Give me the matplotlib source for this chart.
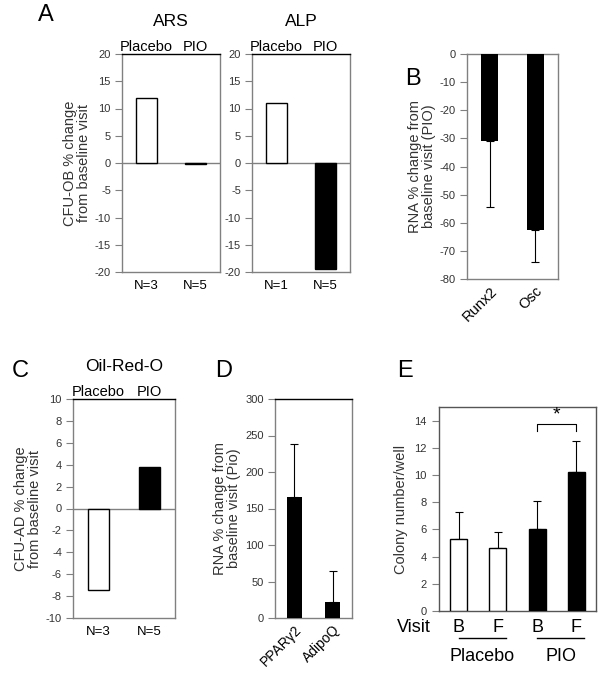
import numpy as np
import matplotlib
matplotlib.use("Agg")
import matplotlib.pyplot as plt

plt.rcParams['font.family'] = ['Liberation Sans', 'DejaVu Sans']
plt.rcParams['axes.unicode_minus'] = False

W, H = 601, 682

# Data
groups = ["Placebo", "PIO"]
ars_n = ["N=3", "N=5"]
ars_vals = [12.0, -0.2]
alp_n = ["N=1", "N=5"]
alp_vals = [11.1, -19.4]

b_genes = ["Runx2", "Osc"]
b_vals = [-31.0, -62.5]
b_err = [23.5, 11.5]

oil_n = ["N=3", "N=5"]
oil_vals = [-7.4, 3.8]

d_genes = ["PPAR\u03b32", "AdipoQ"]
d_vals = [166.0, 22.0]
d_err = [72.0, 42.0]

e_visits = ["B", "F", "B", "F"]
e_vals = [5.3, 4.65, 6.0, 10.25]
e_err = [2.0, 1.15, 2.1, 2.25]
e_groups = ["Placebo", "PIO"]

GRAY = "#808080"


def px_axes(fig, x0, y0, x1, y1):
    return fig.add_axes([x0 / W, 1 - y1 / H, (x1 - x0) / W, (y1 - y0) / H])


def style(ax, top_black=True):
    for s in ["left", "right", "bottom"]:
        ax.spines[s].set_color(GRAY)
        ax.spines[s].set_linewidth(1.0)
    ax.spines["top"].set_color("black" if top_black else GRAY)
    ax.spines["top"].set_linewidth(1.0)
    ax.tick_params(axis="y", direction="out", length=5, color=GRAY,
                   labelsize=8, labelcolor="#333333", pad=3)
    ax.tick_params(axis="x", length=0)


def cfu_panel(ax, vals, nlabels, ylim, yticks):
    x = np.arange(1, len(vals) + 1)
    ax.bar(x, vals, width=0.42, color=["white", "black"],
           edgecolor="black", linewidth=1.0, zorder=3)
    ax.axhline(0, color=GRAY, linewidth=1.0, zorder=2)
    ax.set_xlim(0.5, len(vals) + 0.5)
    ax.set_ylim(*ylim)
    ax.set_yticks(yticks)
    ax.set_xticks(x)
    ax.set_xticklabels(nlabels, fontsize=9.5)
    ax.tick_params(axis="x", pad=6)
    for xi, g in zip(x, groups):
        ax.text(xi, 1.0, g, transform=ax.get_xaxis_transform(),
                ha="center", va="bottom", fontsize=10.5)
    style(ax)


fig = plt.figure(figsize=(W / 100, H / 100), dpi=100)

# Panel A
axA1 = px_axes(fig, 122, 54, 220, 272)
cfu_panel(axA1, ars_vals, ars_n, (-20, 20), np.arange(-20, 21, 5))
axA1.set_title("ARS", fontsize=12.5, pad=20)
axA1.set_ylabel("CFU-OB % change\nfrom baseline visit", fontsize=10.5,
                color="#333333", labelpad=3, linespacing=1.0)

axA2 = px_axes(fig, 252, 54, 350, 272)
cfu_panel(axA2, alp_vals, alp_n, (-20, 20), np.arange(-20, 21, 5))
axA2.set_title("ALP", fontsize=12.5, pad=20)

fig.text(46 / W, 1 - 15 / H, "A", fontsize=17, ha="center", va="center")

# Panel B
axB = px_axes(fig, 467, 54, 558, 279)
xb = np.arange(1, 3)
axB.bar(xb, b_vals, width=0.38, color="black", zorder=3)
axB.errorbar(xb, b_vals, yerr=[b_err, [0, 0]], fmt="none", ecolor="black",
             elinewidth=0.8, capsize=3, capthick=0.8, zorder=2)
axB.set_xlim(0.5, 2.5)
axB.set_ylim(-80, 0)
axB.set_yticks(np.arange(-80, 1, 10))
axB.set_xticks(xb)
axB.set_xticklabels(b_genes, rotation=45, ha="right", fontsize=10.5,
                    rotation_mode="anchor")
style(axB, top_black=False)
axB.set_ylabel("RNA % change from\nbaseline visit (PIO)", fontsize=10.5,
               color="#333333", labelpad=3, linespacing=1.0)
fig.text(413 / W, 1 - 79 / H, "B", fontsize=17, ha="center", va="center")

# Panel C
axC = px_axes(fig, 73, 399, 175, 618)
cfu_panel(axC, oil_vals, oil_n, (-10, 10), np.arange(-10, 11, 2))
axC.set_title("Oil-Red-O", fontsize=12.5, pad=20)
axC.set_ylabel("CFU-AD % change\nfrom baseline visit", fontsize=10.5,
               color="#333333", labelpad=3, linespacing=1.0)
fig.text(20 / W, 1 - 371 / H, "C", fontsize=17, ha="center", va="center")

# Panel D
axD = px_axes(fig, 275, 399, 352, 618)
xd = np.arange(1, 3)
axD.bar(xd, d_vals, width=0.39, color="black", zorder=3)
axD.errorbar(xd, d_vals, yerr=[[0, 0], d_err], fmt="none", ecolor="black",
             elinewidth=0.8, capsize=3, capthick=0.8, zorder=2)
axD.set_xlim(0.5, 2.5)
axD.set_ylim(0, 300)
axD.set_yticks(np.arange(0, 301, 50))
axD.set_xticks(xd)
axD.set_xticklabels(d_genes, rotation=45, ha="right", fontsize=10,
                    rotation_mode="anchor")
style(axD)
axD.set_ylabel("RNA % change from\nbaseline visit (Pio)", fontsize=10.5,
               color="#333333", labelpad=3, linespacing=1.0)
fig.text(224 / W, 1 - 371 / H, "D", fontsize=17, ha="center", va="center")

# Panel E
axE = px_axes(fig, 439, 407, 596, 611)
xe = np.arange(1, 5)
axE.bar(xe, e_vals, width=0.43, color=["white", "white", "black", "black"],
        edgecolor="black", linewidth=1.0, zorder=3)
axE.errorbar(xe, e_vals, yerr=[[0] * 4, e_err], fmt="none", ecolor="black",
             elinewidth=0.8, capsize=3, capthick=0.8, zorder=2)
axE.set_xlim(0.5, 4.5)
axE.set_ylim(0, 15)
axE.set_yticks(np.arange(0, 15, 2))
axE.set_xticks(xe)
axE.set_xticklabels(e_visits, fontsize=13)
style(axE, top_black=False)
axE.tick_params(axis="y", pad=4)
axE.tick_params(axis="x", pad=6)
for s in axE.spines.values():
    s.set_color("#555555")
axE.set_ylabel("Colony number/well", fontsize=10.5, color="#333333",
               labelpad=4)
axE.text(-0.055, -0.038, "Visit", transform=axE.transAxes,
         ha="right", va="top", fontsize=13)
# group lines and labels under the visits
trans = axE.get_xaxis_transform()
for i, g in enumerate(e_groups):
    x0, x1 = xe[2 * i], xe[2 * i + 1] + 0.2
    axE.plot([x0, x1], [-0.13, -0.13], color="black", linewidth=1.0,
             transform=trans, clip_on=False)
    axE.text((xe[2 * i] + xe[2 * i + 1]) / 2 + 0.1, -0.18, g,
             transform=trans, ha="center", va="top", fontsize=13)
# significance bracket
yb = 13.75
axE.plot([xe[2], xe[2], xe[3], xe[3]], [yb - 0.5, yb, yb, yb - 0.5],
         color="black", linewidth=0.8)
axE.text((xe[2] + xe[3]) / 2, yb + 0.05, "*", ha="center", va="bottom",
         fontsize=14)
fig.text(405 / W, 1 - 371 / H, "E", fontsize=17, ha="center", va="center")

fig.savefig("out.png", dpi=100)
